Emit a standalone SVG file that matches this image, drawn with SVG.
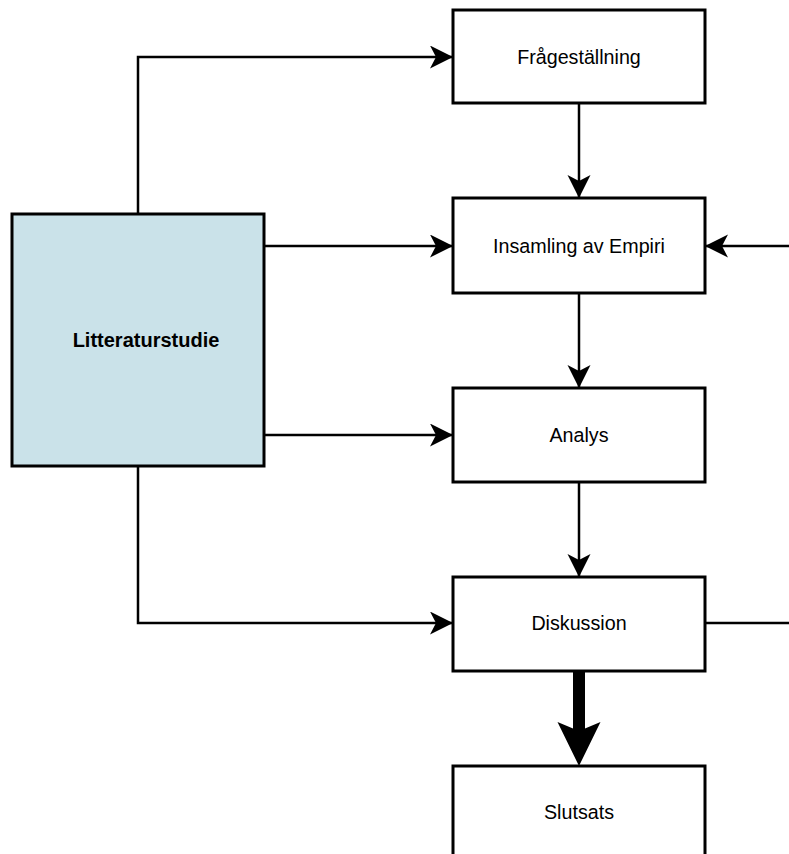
<svg xmlns="http://www.w3.org/2000/svg" width="789" height="854" viewBox="0 0 789 854">
<defs>
<style>
.box{fill:#ffffff;stroke:#000000;stroke-width:3}
.lit{fill:#cae2e9;stroke:#000000;stroke-width:3}
.lbl{font-family:"Liberation Sans",Arial,sans-serif;font-size:19.7px;fill:#000000;text-anchor:middle}
.bold{font-weight:bold;font-size:20px}
.conn{fill:none;stroke:#000000;stroke-width:2.5}
</style>
<marker id="arr" markerUnits="userSpaceOnUse" markerWidth="24" markerHeight="24" refX="23" refY="11.5" orient="auto" viewBox="0 0 24 24">
<path d="M0,0 L23,11.5 L0,23 L6,11.5 Z" fill="#000000"/>
</marker>
</defs>
<rect width="789" height="854" fill="#ffffff"/>
<g id="connectors">
<path class="conn" d="M138,214 L138,57 L453,57" marker-end="url(#arr)"/>
<path class="conn" d="M264,246 L453,246" marker-end="url(#arr)"/>
<path class="conn" d="M264,435 L453,435" marker-end="url(#arr)"/>
<path class="conn" d="M138,466 L138,623 L453,623" marker-end="url(#arr)"/>
<path class="conn" d="M579,103 L579,198" marker-end="url(#arr)"/>
<path class="conn" d="M579,293 L579,388" marker-end="url(#arr)"/>
<path class="conn" d="M579,482 L579,577" marker-end="url(#arr)"/>
<path class="conn" d="M705,623 L789,623"/>
<path class="conn" d="M789,246 L705,246" marker-end="url(#arr)"/>
<path d="M579,671 L579,733" stroke="#000000" stroke-width="12" fill="none"/>
<path d="M557.5,722 L579,731 L600.5,722 L579,766 Z" fill="#000000"/>
</g>
<g id="fragestallning">
<rect class="box" x="453" y="10" width="252" height="93"/>
<text class="lbl" x="579" y="64">Frågeställning</text>
</g>
<g id="insamling">
<rect class="box" x="453" y="198" width="252" height="95"/>
<text class="lbl" x="579" y="253">Insamling av Empiri</text>
</g>
<g id="analys">
<rect class="box" x="453" y="388" width="252" height="94"/>
<text class="lbl" x="579" y="442">Analys</text>
</g>
<g id="diskussion">
<rect class="box" x="453" y="577" width="252" height="94"/>
<text class="lbl" x="579" y="630">Diskussion</text>
</g>
<g id="slutsats">
<rect class="box" x="453" y="766" width="252" height="100"/>
<text class="lbl" x="579" y="819">Slutsats</text>
</g>
<g id="litteraturstudie">
<rect class="lit" x="12" y="214" width="252" height="252"/>
<text class="lbl bold" x="146" y="347">Litteraturstudie</text>
</g>
</svg>
